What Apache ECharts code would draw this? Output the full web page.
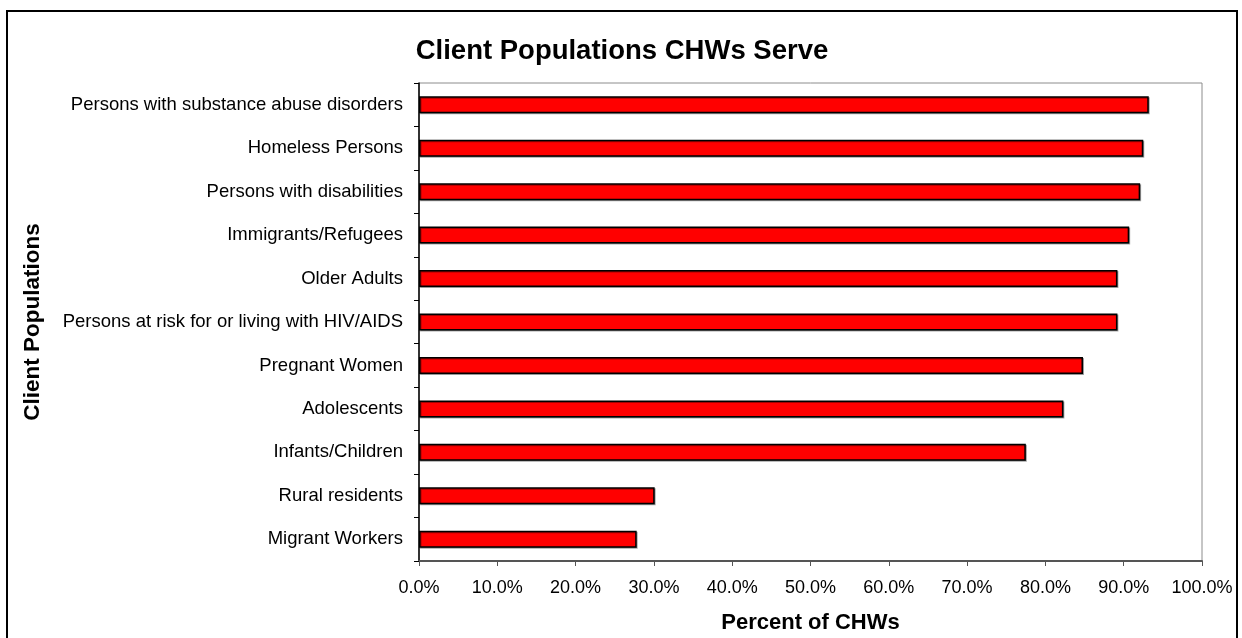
<!DOCTYPE html>
<html>
<head>
<meta charset="utf-8">
<style>
  html, body { margin: 0; padding: 0; background: #fff; }
  #chart { width: 1242px; height: 638px; }
</style>
<script src="https://cdn.jsdelivr.net/npm/echarts@6/dist/echarts.min.js"></script>
</head>
<body>
<div id="chart"></div>
<script>
// data, top to bottom
const categories = [
  'Persons with substance abuse disorders',
  'Homeless Persons',
  'Persons with disabilities',
  'Immigrants/Refugees',
  'Older Adults',
  'Persons at risk for or living with HIV/AIDS',
  'Pregnant Women',
  'Adolescents',
  'Infants/Children',
  'Rural residents',
  'Migrant Workers'
]
const percentOfCHWs = [93.2, 92.5, 92.1, 90.7, 89.2, 89.2, 84.8, 82.3, 77.5, 30.1, 27.8]

const xMin = 0
const xMax = 100
const xStep = 10

const font = '"Liberation Sans", Arial, sans-serif'

const chart = echarts.init(document.getElementById('chart'))

chart.setOption({
  animation: false,
  backgroundColor: '#fff',
  textStyle: { fontFamily: font },
  title: {
    text: 'Client Populations CHWs Serve',
    left: 617,
    top: 32,
    textAlign: 'center',
    textStyle: {
      fontFamily: font,
      fontSize: 27.5,
      fontWeight: 'bold',
      color: '#000'
    }
  },
  graphic: [{
    type: 'rect',
    shape: { x: 7, y: 11, width: 1230, height: 640 },
    style: { fill: 'none', stroke: '#000', lineWidth: 2 },
    silent: true
  }],
  grid: {
    left: 419,
    right: 40,
    top: 83,
    bottom: 77,
    outerBoundsMode: 'none',
    show: true,
    borderColor: '#8c8c8c',
    borderWidth: 1,
    backgroundColor: 'transparent'
  },
  xAxis: {
    type: 'value',
    min: xMin,
    max: xMax,
    interval: xStep,
    name: 'Percent of CHWs',
    nameLocation: 'middle',
    nameGap: 51,
    nameTextStyle: {
      fontFamily: font,
      fontSize: 22,
      fontWeight: 'bold',
      color: '#000'
    },
    axisLine: { show: true, lineStyle: { color: '#555', width: 2 } },
    axisTick: { show: true, length: 5, lineStyle: { color: '#555' } },
    splitLine: { show: false },
    axisLabel: {
      fontFamily: font,
      fontSize: 18,
      color: '#000',
      margin: 18,
      formatter: v => v.toFixed(1) + '%'
    }
  },
  yAxis: {
    type: 'category',
    data: categories,
    inverse: true,
    name: 'Client Populations',
    nameLocation: 'middle',
    nameGap: 375,
    nameRotate: 90,
    nameTextStyle: {
      fontFamily: font,
      fontSize: 22.5,
      fontWeight: 'bold',
      color: '#000'
    },
    axisLine: { show: true, lineStyle: { color: '#000', width: 1.5 } },
    axisTick: { show: true, length: 5, lineStyle: { color: '#000' } },
    axisLabel: {
      fontFamily: font,
      fontSize: 18.5,
      color: '#000',
      margin: 16
    }
  },
  series: [{
    type: 'bar',
    data: percentOfCHWs,
    barWidth: 17,
    itemStyle: {
      color: '#ff0000',
      borderColor: '#000',
      borderWidth: 1.5,
      shadowColor: 'rgba(0,0,0,0.35)',
      shadowOffsetX: 1,
      shadowOffsetY: 1,
      shadowBlur: 0
    }
  }]
})
</script>
</body>
</html>
